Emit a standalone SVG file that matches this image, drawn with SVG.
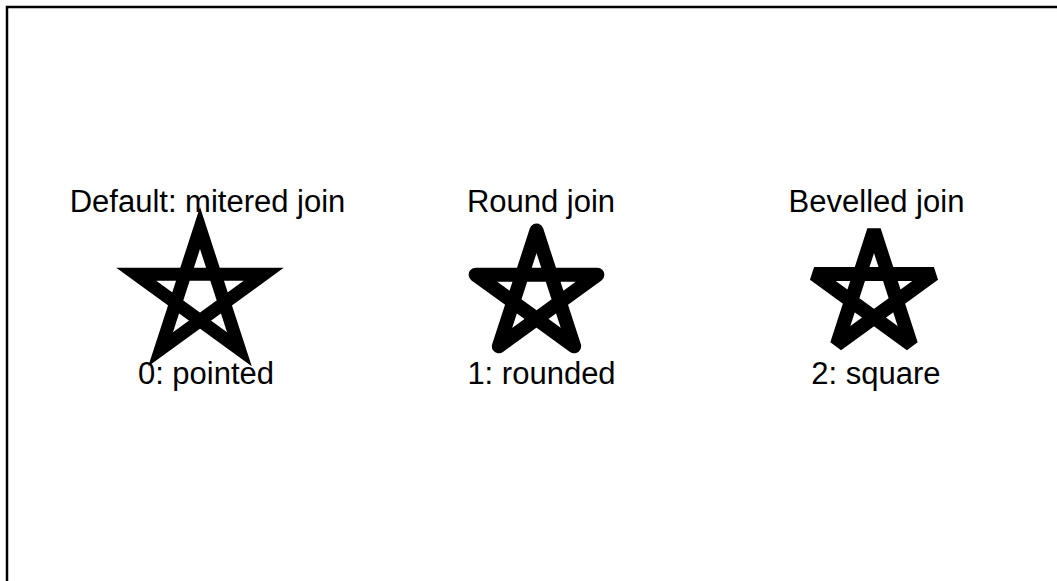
<svg xmlns="http://www.w3.org/2000/svg" width="1057" height="581" viewBox="0 0 1057 581">
<style>
.lbl{font-family:"Liberation Sans",Arial,sans-serif;font-size:31px;fill:#000;text-anchor:middle}
.star{fill:none;stroke:#000}
</style>
<rect width="1057" height="581" fill="#fff"/>
<path d="M7,585 V7 H1060" fill="none" stroke="#000" stroke-width="2.5"/>
<g id="star-miter">
<path class="star" stroke-width="13" stroke-linejoin="miter" d="M200,228 L239.38,349.2 L136.28,274.3 L263.72,274.3 L160.62,349.2 Z"/>
<text class="lbl" x="207.5" y="211.5">Default: mitered join</text>
<text class="lbl" x="206" y="384">0: pointed</text>
</g>
<g id="star-round">
<path class="star" stroke-width="14" stroke-linejoin="round" d="M536.5,230.5 L574.12,346.28 L475.63,274.72 L597.37,274.72 L498.88,346.28 Z"/>
<text class="lbl" x="541" y="211.5">Round join</text>
<text class="lbl" x="541.5" y="384">1: rounded</text>
</g>
<g id="star-bevel">
<path class="star" stroke-width="14" stroke-linejoin="bevel" d="M874,230.5 L911.03,344.47 L814.08,274.03 L933.92,274.03 L836.97,344.47 Z"/>
<text class="lbl" x="876.5" y="211.5">Bevelled join</text>
<text class="lbl" x="876" y="384">2: square</text>
</g>
<g id="connectors"></g>
</svg>
